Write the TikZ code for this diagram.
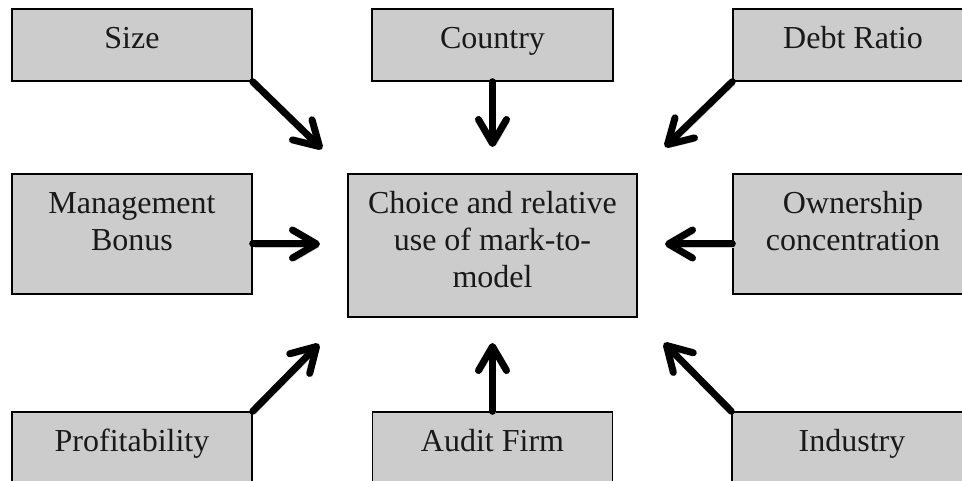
\documentclass[tikz,border=0pt]{standalone}
\usepackage{fontspec}
\setmainfont{Liberation Serif}
\usetikzlibrary{arrows.meta,calc}
\definecolor{boxgray}{RGB}{204,204,204}
\begin{document}
\begin{tikzpicture}[x=1pt,y=-1pt,
  box/.style={rectangle, draw=black, line width=1.4pt, fill=boxgray,
    minimum width=240pt, inner sep=0pt},
  lbl/.style={anchor=north, inner sep=0pt, align=center,
    font=\fontsize{32}{37}\selectfont, text=black!90},
  arr/.style={line width=7pt, line cap=round, line join=round,
    -{Straight Barb[length=24pt,width=28pt,round]},
    preaction={draw=black!22, transform canvas={shift={(2.5pt,-3pt)}}}}]
\useasboundingbox (0,0) rectangle (962,481);
\fill[white] (0,0) rectangle (962,481);
\clip (0,0) rectangle (962,481);

% top row
\node[box, minimum height=72pt,
  label={[lbl, label distance=-14pt]north:\strut Size}] (size) at (132,45) {};
\node[box, minimum width=241pt, minimum height=72pt,
  label={[lbl, label distance=-14pt]north:\strut Country}] (country) at (492.5,45) {};
\node[box, minimum height=72pt,
  label={[lbl, label distance=-14pt]north:\strut Debt Ratio}] (debt) at (853,45) {};

% middle row
\node[box, minimum height=120pt,
  label={[lbl, label distance=-14pt]north:\strut Management\\Bonus}] (mgmt) at (132,234) {};
\node[box, minimum width=289pt, minimum height=143pt,
  label={[lbl, label distance=-14pt]north:\strut Choice and relative\\use of mark-to-\\model}] (center) at (492.5,245.5) {};
\node[box, minimum height=120pt,
  label={[lbl, label distance=-14pt]north:\strut Ownership\\concentration}] (own) at (853,234) {};

% bottom row
\node[box, minimum height=120pt,
  label={[lbl, label distance=-14pt]north:\strut Profitability}] (prof) at (132,472) {};
\node[box, minimum height=120pt,
  label={[lbl, label distance=-14pt]north:\strut Audit Firm}] (audit) at (492.5,472) {};
\node[box, minimum height=120pt,
  label={[lbl, label distance=-14pt]north:\strut Industry}] (ind) at (852,472) {};

% arrow tips
\coordinate (tsize) at (322,149);
\coordinate (tcountry) at (492.5,147);
\coordinate (tdebt) at (665,147);
\coordinate (tmgmt) at (320,244);
\coordinate (town) at (665,244);
\coordinate (tprof) at (319,344);
\coordinate (taudit) at (492.5,343);
\coordinate (tind) at (664,343);

\draw[arr] (size.south east) -- (tsize);
\draw[arr] (country.south) -- (tcountry);
\draw[arr] (debt.south west) -- (tdebt);
\draw[arr] (mgmt.east |- tmgmt) -- (tmgmt);
\draw[arr] (own.west |- town) -- (town);
\draw[arr] (prof.north east) -- (tprof);
\draw[arr] (audit.north) -- (taudit);
\draw[arr] (ind.north west) -- (tind);
\end{tikzpicture}
\end{document}
